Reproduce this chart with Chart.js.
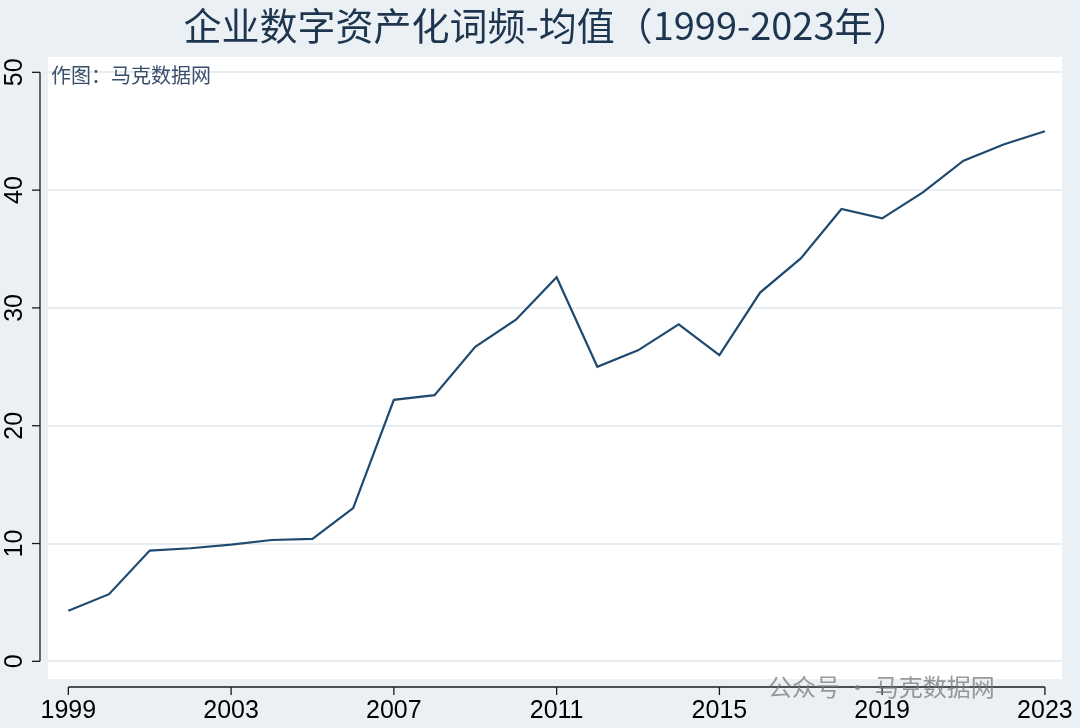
<!DOCTYPE html><html><head><meta charset="utf-8">
<script src="https://cdn.jsdelivr.net/npm/chart.js@4/dist/chart.umd.min.js"></script>
<style>html,body{margin:0;background:#eaf0f3}#w{width:1080px;height:728px}</style></head><body><div id="w"><canvas id="c"></canvas></div>
<script>
const years=[1999,2000,2001,2002,2003,2004,2005,2006,2007,2008,2009,2010,2011,2012,2013,2014,2015,2016,2017,2018,2019,2020,2021,2022,2023];
const values=[4.3,5.7,9.4,9.6,9.9,10.3,10.4,13.0,22.2,22.6,26.7,29.0,32.6,25.0,26.4,28.6,26.0,31.3,34.2,38.4,37.6,39.8,42.5,43.9,45.0];
const xTicks=[1999,2003,2007,2011,2015,2019,2023];
const yTicks=[0,10,20,30,40,50];
const title='企业数字资产化词频-均值（1999-2023年）';
const note='作图：马克数据网';
const mark='公众号 · 马克数据网';
const axisCol='#1a1a1a';
const deco={id:'deco',
beforeDraw(ch){const c=ch.ctx,a=ch.chartArea;c.save();c.fillStyle='#eaf0f3';c.fillRect(0,0,ch.width,ch.height);c.fillStyle='#fff';c.fillRect(a.left,a.top,a.right-a.left,a.bottom-a.top);c.restore();},
afterDraw(ch){const c=ch.ctx,a=ch.chartArea,xs=ch.scales.x,ys=ch.scales.y;c.save();
c.strokeStyle=axisCol;c.lineWidth=1.3;c.fillStyle='#000';
const ax=40,ay=687;
c.beginPath();c.moveTo(ax,ys.getPixelForValue(0));c.lineTo(ax,ys.getPixelForValue(50));c.stroke();
c.font='25px "Liberation Sans",Arial';c.textAlign='center';c.textBaseline='bottom';
yTicks.forEach(v=>{const y=ys.getPixelForValue(v);c.beginPath();c.moveTo(ax-8,y);c.lineTo(ax,y);c.stroke();c.save();c.translate(ax-12,y);c.rotate(-Math.PI/2);c.fillText(String(v),0,0);c.restore();});
c.beginPath();c.moveTo(xs.getPixelForValue(1999),ay);c.lineTo(xs.getPixelForValue(2023),ay);c.stroke();
c.textBaseline='top';
xTicks.forEach(v=>{const x=xs.getPixelForValue(v);c.beginPath();c.moveTo(x,ay);c.lineTo(x,ay+8);c.stroke();c.fillText(String(v),x,ay+12);});
c.fillStyle='#1e3550';c.font='38px "Noto Sans CJK SC"';c.textBaseline='middle';c.fillText(title,547,26);
c.textAlign='left';c.font='20px "Noto Sans CJK SC"';c.fillStyle='#3a4f6a';c.fillText(note,51,75);
c.font='24px "Noto Sans CJK SC"';c.fillStyle='rgba(120,120,120,0.75)';c.fillText(mark,768,687);
c.restore();}};
new Chart(document.getElementById('c'),{type:'line',
data:{datasets:[{data:years.map((y,i)=>({x:y,y:values[i]})),borderColor:'#1f4a70',borderWidth:2.2,pointRadius:0,tension:0}]},
options:{responsive:true,maintainAspectRatio:false,animation:false,
layout:{padding:{left:48,right:18,top:57,bottom:41}},
plugins:{legend:{display:false},tooltip:{enabled:false}},
scales:{x:{type:'linear',min:1998.5,max:2023.42,ticks:{display:false},grid:{display:false},border:{display:false}},
y:{min:-1.5,max:51.3,afterBuildTicks(s){s.ticks=yTicks.map(v=>({value:v}));},ticks:{display:false},grid:{color:'#e6ecef',lineWidth:2,drawTicks:false},border:{display:false}}}},
plugins:[deco]});
</script></body></html>
